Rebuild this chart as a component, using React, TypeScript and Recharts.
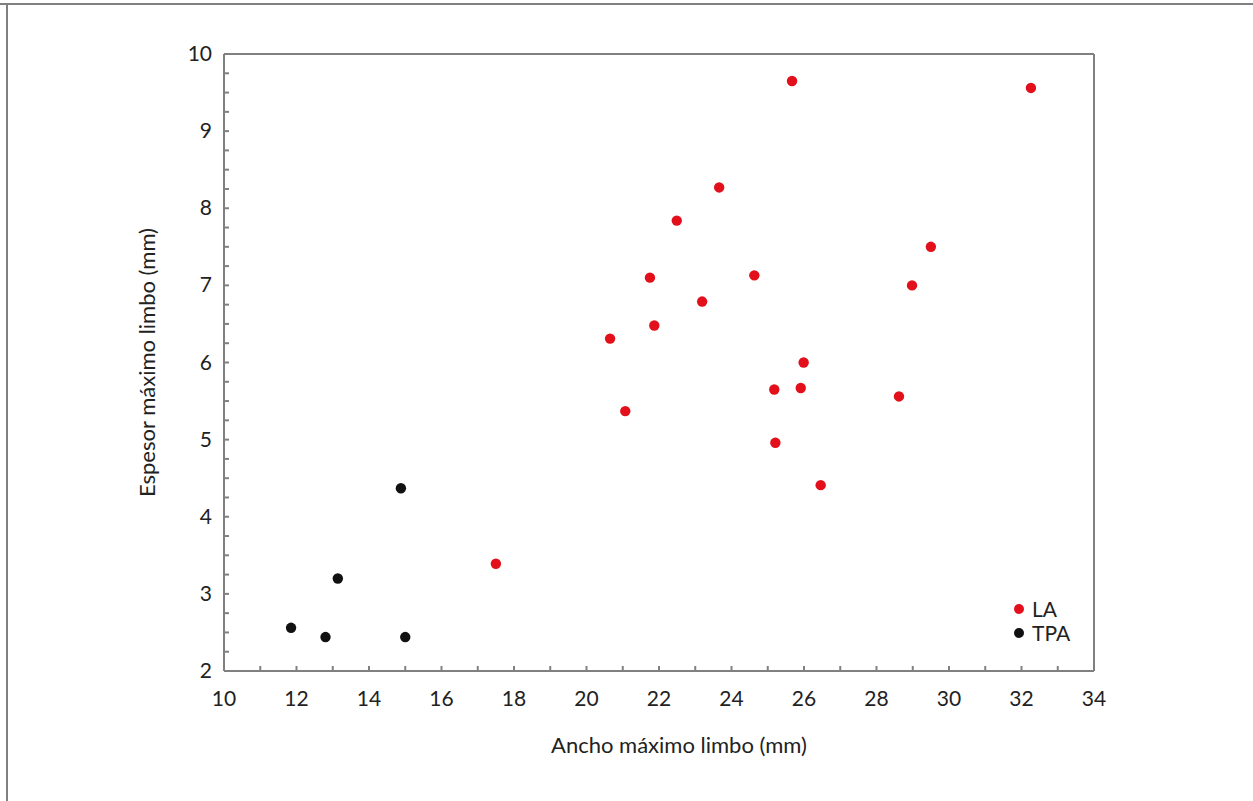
import { ScatterChart, Scatter, XAxis, YAxis, Legend } from 'recharts';

const laX = [25.67, 32.26, 23.66, 22.49, 29.5, 21.75, 24.63, 28.98, 23.19, 21.87, 20.65, 25.99, 25.18, 25.91, 28.62, 21.07, 25.21, 26.46, 17.5];
const laY = [9.65, 9.56, 8.27, 7.84, 7.5, 7.1, 7.13, 7.0, 6.79, 6.48, 6.31, 6.0, 5.65, 5.67, 5.56, 5.37, 4.96, 4.41, 3.39];
const tpaX = [14.88, 13.14, 11.85, 12.8, 15.0];
const tpaY = [4.37, 3.2, 2.56, 2.44, 2.44];

const xTicks = [10, 11, 12, 13, 14, 15, 16, 17, 18, 19, 20, 21, 22, 23, 24, 25, 26, 27, 28, 29, 30, 31, 32, 33, 34];
const yTicks = [2, 2.25, 2.5, 2.75, 3, 3.25, 3.5, 3.75, 4, 4.25, 4.5, 4.75, 5, 5.25, 5.5, 5.75, 6, 6.25, 6.5, 6.75, 7, 7.25, 7.5, 7.75, 8, 8.25, 8.5, 8.75, 9, 9.25, 9.5, 9.75, 10];

const laData = laX.map((x, i) => ({ x, y: laY[i] }));
const tpaData = tpaX.map((x, i) => ({ x, y: tpaY[i] }));

const series = [
  { name: 'LA', color: '#e3101c' },
  { name: 'TPA', color: '#111111' },
];

const FONT = 'Lato, "Open Sans", sans-serif';
const AXIS = '#808080';
const TICK_LEN = 5;

function BottomTick(props: any) {
  const { x, y, payload } = props;
  const v = payload.value;
  return (
    <g>
      {v !== 10 && v !== 34 && <line x1={x} x2={x} y1={y} y2={y - TICK_LEN} stroke={AXIS} strokeWidth={2} />}
      {v % 2 === 0 && (
        <text x={x} y={y + 35} textAnchor="middle" fontSize={21} fill="#222" fontFamily={FONT}>{v}</text>
      )}
    </g>
  );
}

function TopTick(props: any) {
  const { x, y, payload } = props;
  const v = payload.value;
  if (v === 10 || v === 34) return <g />;
  return <line x1={x} x2={x} y1={y} y2={y + TICK_LEN} stroke={AXIS} strokeWidth={2} />;
}

function LeftTick(props: any) {
  const { x, y, payload } = props;
  const v = payload.value;
  return (
    <g>
      {v !== 2 && v !== 10 && <line x1={x} x2={x + TICK_LEN} y1={y} y2={y} stroke={AXIS} strokeWidth={2} />}
      {Number.isInteger(v) && (
        <text x={x - 12} y={y + 7} textAnchor="end" fontSize={21} fill="#222" fontFamily={FONT}>{v}</text>
      )}
    </g>
  );
}

function RightTick(props: any) {
  const { x, y, payload } = props;
  const v = payload.value;
  if (v === 2 || v === 10) return <g />;
  return <line x1={x} x2={x - TICK_LEN} y1={y} y2={y} stroke={AXIS} strokeWidth={2} />;
}

function Dot(props: any) {
  const { cx, cy, fill } = props;
  return <circle cx={cx} cy={cy} r={5.2} fill={fill} />;
}

function LegendBox() {
  return (
    <div style={{ fontFamily: FONT, fontSize: 21, color: '#222', lineHeight: '24px' }}>
      {series.map((s) => (
        <div key={s.name} style={{ display: 'flex', alignItems: 'center' }}>
          <span style={{ display: 'inline-block', width: 10, height: 10, borderRadius: 5, background: s.color, marginRight: 8 }} />
          {s.name}
        </div>
      ))}
    </div>
  );
}

export default function App() {
  return (
    <div style={{ position: 'absolute', left: 0, top: 0, width: 1253, height: 801, background: '#fff' }}>
      <div style={{ position: 'absolute', left: 0, top: 3, width: 1253, height: 2, background: AXIS }} />
      <div style={{ position: 'absolute', left: 6, top: 3, width: 2, height: 798, background: AXIS }} />
      <ScatterChart
        width={1253}
        height={801}
        margin={{ top: 53, right: 158, bottom: 70, left: 164 }}
        style={{ position: 'absolute', left: 0, top: 0 }}
      >
        <XAxis
          xAxisId="b"
          type="number"
          dataKey="x"
          domain={[10, 34]}
          ticks={xTicks}
          interval={0}
          height={60}
          tickSize={0}
          tickMargin={0}
          stroke={AXIS}
          strokeWidth={2}
          tick={<BottomTick />}
          label={{ value: 'Ancho máximo limbo (mm)', position: 'insideBottom', offset: -22, dx: 20, fontSize: 22, fill: '#222', fontFamily: FONT }}
        />
        <XAxis
          xAxisId="t"
          orientation="top"
          type="number"
          dataKey="x"
          domain={[10, 34]}
          ticks={xTicks}
          interval={0}
          height={1}
          tickSize={0}
          tickMargin={0}
          stroke={AXIS}
          strokeWidth={2}
          tick={<TopTick />}
        />
        <YAxis
          yAxisId="l"
          type="number"
          dataKey="y"
          domain={[2, 10]}
          ticks={yTicks}
          interval={0}
          width={60}
          tickSize={0}
          tickMargin={0}
          stroke={AXIS}
          strokeWidth={2}
          tick={<LeftTick />}
          label={{ value: 'Espesor máximo limbo (mm)', angle: -90, position: 'insideLeft', offset: -17, style: { textAnchor: 'middle' }, fontSize: 22, fill: '#222', fontFamily: FONT }}
        />
        <YAxis
          yAxisId="r"
          orientation="right"
          type="number"
          dataKey="y"
          domain={[2, 10]}
          ticks={yTicks}
          interval={0}
          width={1}
          tickSize={0}
          tickMargin={0}
          stroke={AXIS}
          strokeWidth={2}
          tick={<RightTick />}
        />
        <Legend
          content={<LegendBox />}
          layout="vertical"
          verticalAlign="middle"
          align="center"
          wrapperStyle={{ left: 1014, top: 597, width: 80 }}
        />
        <Scatter name="LA" data={laData} xAxisId="b" yAxisId="l" fill={series[0].color} shape={<Dot />} isAnimationActive={false} />
        <Scatter name="TPA" data={tpaData} xAxisId="b" yAxisId="l" fill={series[1].color} shape={<Dot />} isAnimationActive={false} />
        <Scatter data={[]} xAxisId="t" yAxisId="r" isAnimationActive={false} legendType="none" />
      </ScatterChart>
    </div>
  );
}
